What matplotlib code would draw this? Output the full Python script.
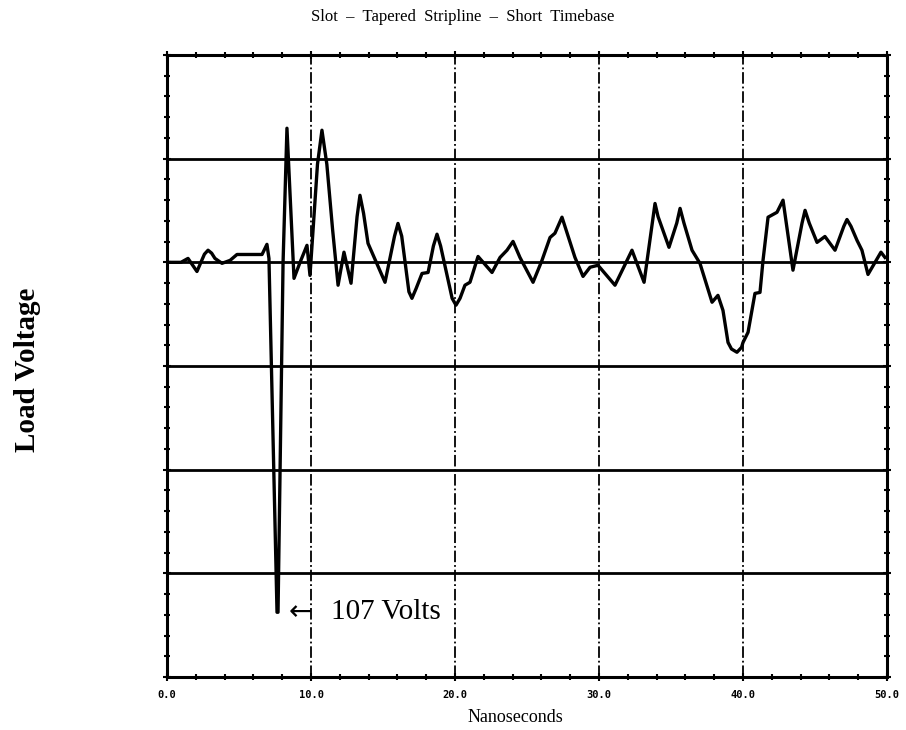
import numpy as np
import matplotlib
matplotlib.use('Agg')
import matplotlib.pyplot as plt
from matplotlib.ticker import MultipleLocator

# load voltage trace (ns, volts)
time_ns = [0.2, 0.97, 1.46, 2.08, 2.6, 2.85, 3.1, 3.33, 3.82, 4.38, 4.86, 6.6,
           6.94, 7.08, 7.64, 7.71, 8.06, 8.33, 8.82, 9.24, 9.72, 9.93, 10.45,
           10.76, 11.1, 11.5, 11.88, 12.29, 12.78, 13.2, 13.40, 13.65, 13.96,
           15.14, 15.8, 16.04, 16.3, 16.8, 17.01, 17.3, 17.71, 18.13, 18.5,
           18.75, 19.0, 19.8, 20.07, 20.35, 20.69, 21.04, 21.6, 22.57, 23.13,
           23.61, 24.03, 24.51, 25.42, 26.04, 26.6, 26.94, 27.43, 28.33, 28.89,
           29.38, 29.93, 31.11, 32.29, 33.13, 33.89, 34.1, 34.86, 35.4, 35.63,
           35.9, 36.46, 37.01, 37.85, 38.26, 38.61, 38.96, 39.2, 39.58, 39.9,
           40.0, 40.35, 40.83, 41.18, 41.39, 41.74, 42.36, 42.78, 43.47, 44.1,
           44.31, 44.6, 45.14, 45.69, 46.39, 47.0, 47.22, 47.5, 47.92, 48.26,
           48.68, 49.17, 49.58, 49.86]
volts = [0, 0, 1.2, -2.8, 2.5, 3.7, 2.8, 1.2, -0.3, 0.6, 2.4, 2.4,
         5.5, 1.2, -107, -107, 0, 41, -4.9, 0, 5.2, -4.0, 30,
         40.4, 30, 10, -7.0, 3.1, -6.4, 14, 20.5, 15, 5.8,
         -6.1, 8, 11.9, 8, -9, -11.0, -8, -3.4, -3.1, 5,
         8.6, 5, -11, -13.1, -11, -7.0, -6.1, 1.8, -3.1, 1.5,
         3.7, 6.4, 1.5, -6.1, 0.6, 7.6, 8.9, 13.8, 1.5, -4.3,
         -1.5, -0.9, -7.0, 3.7, -6.1, 18.0, 14, 4.6, 12, 16.5,
         12, 3.7, -0.3, -12.2, -10.1, -14.7, -24.5, -26.5, -27.5, -26,
         -24.5, -21.4, -9.5, -9.2, 0.6, 13.8, 15.3, 19.0, -2.4, 12,
         15.9, 12, 6.1, 7.9, 3.7, 11, 13.1, 11, 6.7, 3.7,
         -3.7, 0, 3.1, 1.5]

x_ticks = [0, 10, 20, 30, 40, 50]
x_labels = ['0.0', '10.0', '20.0', '30.0', '40.0', '50.0']
v_per_div = 31.7

fig = plt.figure(figsize=(9.06, 7.30), dpi=100)
ax = fig.add_axes([167/906, 1-677/730, 720/906, 622/730])

# grid: solid horizontals, dash-dot verticals
for k in range(-3, 2):
    ax.axhline(k*v_per_div, color='black', lw=2.0, zorder=1)
for xv in x_ticks[1:-1]:
    ax.axvline(xv, color='black', lw=1.3, ls='-.', zorder=1)

ax.plot(time_ns, volts, color='black', lw=2.4, zorder=3, solid_joinstyle='round')

ax.set_xlim(0, 50)
ax.set_ylim(-4*v_per_div, 2*v_per_div)
ax.set_xticks(x_ticks)
ax.set_xticklabels(x_labels, family='DejaVu Sans Mono', fontweight='bold', fontsize=7.5)
ax.xaxis.set_minor_locator(MultipleLocator(2))
ax.set_yticks(np.arange(-4, 3)*v_per_div)
ax.set_yticklabels([])
ax.yaxis.set_minor_locator(MultipleLocator(v_per_div/5))
ax.tick_params(which='both', direction='inout', top=True, right=True, width=1.5)
ax.tick_params(which='major', length=6, pad=6)
ax.tick_params(which='minor', length=5)
for s in ax.spines.values():
    s.set_linewidth(2.2)

ax.text(8.45, -107, '\u2190', family='DejaVu Sans', fontsize=20, va='center', ha='left')
ax.text(11.4, -107, '107 Volts', family=['Liberation Serif', 'DejaVu Serif'],
        fontsize=21, va='center', ha='left')

fig.text(463/906, 1-17/730, 'Slot  \u2013  Tapered  Stripline  \u2013  Short  Timebase',
         family=['Liberation Serif', 'DejaVu Serif'], fontsize=12, ha='center', va='center')
fig.text(515/906, 1-717/730, 'Nanoseconds', family=['Liberation Serif', 'DejaVu Serif'],
         fontsize=13, ha='center', va='center')
fig.text(28/906, 1-370/730, 'Load Voltage', family=['Liberation Serif', 'DejaVu Serif'],
         fontsize=21, fontweight='bold', rotation=90, ha='center', va='center')

fig.savefig('out.png', dpi=100)
